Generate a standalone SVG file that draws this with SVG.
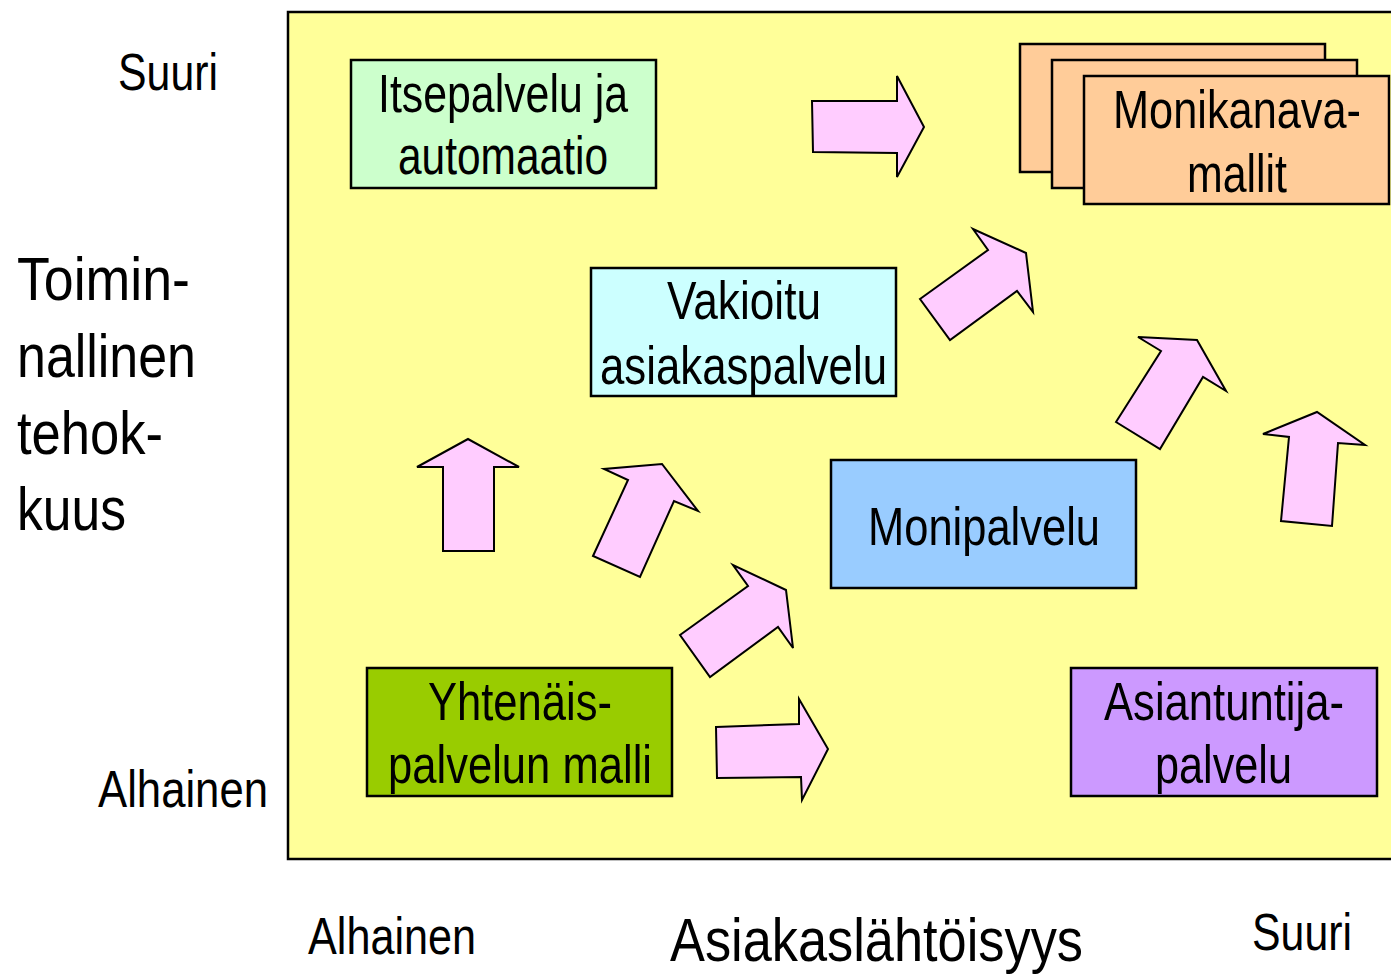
<svg xmlns="http://www.w3.org/2000/svg" width="1391" height="975" viewBox="0 0 1391 975">
<style>
text{font-family:"Liberation Sans",Arial,sans-serif;fill:#000;}
.t{font-size:54px;text-anchor:start;}
.lab{font-size:52px;}
.big{font-size:62px;}
.box{stroke:#000;stroke-width:2.5;}
.arr{fill:#FFCCFF;stroke:#000;stroke-width:2;stroke-linejoin:miter;}
</style>
<rect x="0" y="0" width="1391" height="975" fill="#fff"/>
<rect x="288" y="12" width="1110" height="847" fill="#FFFF99" stroke="#000" stroke-width="2.5"/>

<g id="axis-labels">
<text class="lab" x="118" y="90" textLength="100" lengthAdjust="spacingAndGlyphs">Suuri</text>
<text class="lab" x="98" y="807" textLength="170" lengthAdjust="spacingAndGlyphs">Alhainen</text>
<text class="big" x="17" y="300" textLength="173" lengthAdjust="spacingAndGlyphs">Toimin-</text>
<text class="big" x="17" y="377" textLength="179" lengthAdjust="spacingAndGlyphs">nallinen</text>
<text class="big" x="17" y="454" textLength="146" lengthAdjust="spacingAndGlyphs">tehok-</text>
<text class="big" x="17" y="530" textLength="109" lengthAdjust="spacingAndGlyphs">kuus</text>
<text class="lab" x="308" y="954" textLength="168" lengthAdjust="spacingAndGlyphs">Alhainen</text>
<text class="big" x="670" y="961" font-size="58" textLength="413" lengthAdjust="spacingAndGlyphs">Asiakaslähtöisyys</text>
<text class="lab" x="1252" y="950" textLength="100" lengthAdjust="spacingAndGlyphs">Suuri</text>
</g>

<g id="node-itsepalvelu">
<rect class="box" x="351" y="60" width="305" height="128" fill="#CCFFCC"/>
<text class="t" x="378" y="112" textLength="250" lengthAdjust="spacingAndGlyphs">Itsepalvelu ja</text>
<text class="t" x="398" y="174" textLength="210" lengthAdjust="spacingAndGlyphs">automaatio</text>
</g>

<g id="node-vakioitu">
<rect class="box" x="591" y="268" width="305" height="128" fill="#CCFFFF"/>
<text class="t" x="667" y="319" textLength="154" lengthAdjust="spacingAndGlyphs">Vakioitu</text>
<text class="t" x="600" y="384" textLength="287" lengthAdjust="spacingAndGlyphs">asiakaspalvelu</text>
</g>

<g id="node-monipalvelu">
<rect class="box" x="831" y="460" width="305" height="128" fill="#99CCFF"/>
<text class="t" x="868" y="545" textLength="232" lengthAdjust="spacingAndGlyphs">Monipalvelu</text>
</g>

<g id="node-yhtenais">
<rect class="box" x="367" y="668" width="305" height="128" fill="#99CC00"/>
<text class="t" x="428" y="720" textLength="184" lengthAdjust="spacingAndGlyphs">Yhtenäis-</text>
<text class="t" x="388" y="783" textLength="264" lengthAdjust="spacingAndGlyphs">palvelun malli</text>
</g>

<g id="node-asiantuntija">
<rect class="box" x="1071" y="668" width="306" height="128" fill="#CC99FF"/>
<text class="t" x="1104" y="720" textLength="240" lengthAdjust="spacingAndGlyphs">Asiantuntija-</text>
<text class="t" x="1155" y="783" textLength="137" lengthAdjust="spacingAndGlyphs">palvelu</text>
</g>

<g id="node-monikanava">
<rect class="box" x="1020" y="44" width="305" height="128" fill="#FFCC99"/>
<rect class="box" x="1052" y="60" width="305" height="128" fill="#FFCC99"/>
<rect class="box" x="1084" y="76" width="305" height="128" fill="#FFCC99"/>
<text class="t" x="1113" y="128" textLength="248" lengthAdjust="spacingAndGlyphs">Monikanava-</text>
<text class="t" x="1187" y="192" textLength="100" lengthAdjust="spacingAndGlyphs">mallit</text>
</g>

<g id="connectors">
<polygon class="arr" points="812,101 897,101 897,76 924,127 897,177 897,153 813,152"/>
<polygon class="arr" points="716,727 799,724 799,699 828,749 802,800 801,777 717,778"/>
<polygon class="arr" points="443,551 443,467 417,467 468,439 519,467 494,467 494,551"/>
<polygon class="arr" points="593,556 628,480 604,469 662,464 698,511 674,501 640,577"/>
<polygon class="arr" points="680,635 748,586 733,565 786,590 793,648 778,627 710,677"/>
<polygon class="arr" points="920,299 988,250 973,229 1026,253 1033,312 1017,291 950,340"/>
<polygon class="arr" points="1116,422 1161,351 1138,337 1197,340 1226,391 1203,377 1160,449"/>
<polygon class="arr" points="1281,521 1289,437 1263,434 1317,412 1365,445 1338,443 1332,526"/>
</g>
</svg>
